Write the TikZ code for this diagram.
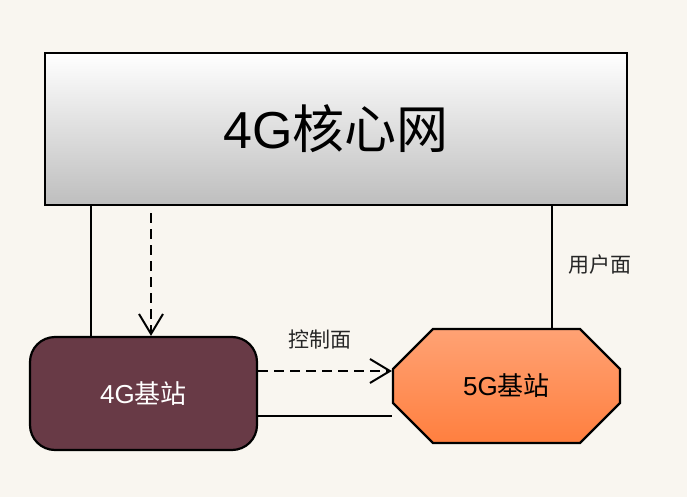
\documentclass[tikz,border=0pt]{standalone}
\usepackage{fontspec}
\setmainfont{Liberation Sans}
\newfontfamily\cjk{Noto Sans CJK SC}
\usetikzlibrary{arrows.meta,shapes.misc}
\definecolor{bg}{HTML}{F9F6F0}
\definecolor{maroon4g}{HTML}{683A46}
\definecolor{orTop}{HTML}{FFA274}
\definecolor{orBot}{HTML}{FF7F3F}
\definecolor{coreBot}{HTML}{BEBEBE}
\tikzset{
  box/.style={draw=black, line width=2.2pt, inner sep=0pt},
  conn/.style={draw=black, line width=2.2pt},
  dconn/.style={conn, dash pattern=on 10pt off 6pt, -{Straight Barb[length=20pt,width=24pt,line width=2pt]}},
  lbl/.style={font=\fontsize{21}{24}\selectfont\cjk, text=black!85}
}
\begin{document}
\begin{tikzpicture}[x=1pt,y=-1pt]
\fill[bg] (0,0) rectangle (687,497);
\useasboundingbox (0,0) rectangle (687,497);
\node[box, minimum width=582pt, minimum height=152pt, top color=white, bottom color=coreBot,
      font=\fontsize{52}{60}\selectfont] (core) at (336,129) {4G{\cjk 核心网}};
\node[box, fill=maroon4g, rounded corners=25pt, minimum width=227pt, minimum height=113pt,
      text=white, font=\fontsize{26}{30}\selectfont] (bs4) at (143.5,393.5) {4G{\cjk 基站}};
\node[box, chamfered rectangle, chamfered rectangle xsep=39pt, chamfered rectangle ysep=28pt,
      minimum width=227pt, minimum height=114pt, top color=orTop, bottom color=orBot,
      font=\fontsize{26}{30}\selectfont] (bs5) at (506.5,386) {5G{\cjk 基站}};
% solid core -> 4G
\draw[conn] (core.south -| 91,0) -- (bs4.north -| 91,0);
% dashed core -> 4G
\draw[dconn] ([yshift=-7pt]core.south -| 151,0) -- (bs4.north -| 151,0);
% dashed 4G -> 5G
\draw[dconn] (bs4.east |- 0,371) -- (bs5.west |- 0,371);
% solid 4G - 5G
\draw[conn] (bs4.east |- 0,416) -- (bs5.west |- 0,416);
% solid core - 5G
\draw[conn] (core.south -| 552,0) -- (bs5.north -| 552,0);
\node[lbl] (lc) at (320,340) {控制面};
\node[lbl] (lu) at (600,265) {用户面};
\end{tikzpicture}
\end{document}
